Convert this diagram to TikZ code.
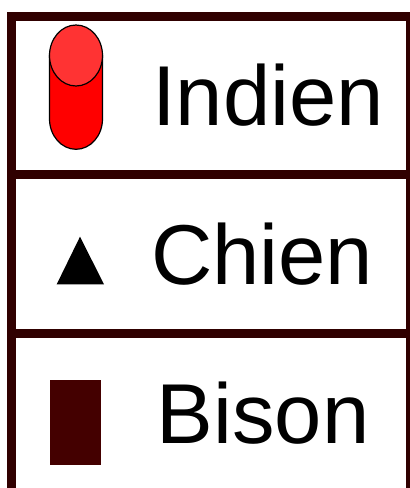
\documentclass[tikz,border=0pt]{standalone}
\usepackage{fontspec}
\setmainfont{Liberation Sans}
\definecolor{framec}{RGB}{48,0,0}
\definecolor{bisonc}{RGB}{68,0,0}
\definecolor{captop}{RGB}{255,51,51}
\begin{document}
\begin{tikzpicture}[x=1pt,y=-1pt,
  frameline/.style={draw=framec,line width=9pt},
  label/.style={anchor=base west,inner sep=0pt,font=\fontsize{85}{90}\selectfont}]
\useasboundingbox (0,0) rectangle (410,488);
\clip (0,0) rectangle (410,488);
% frame
\draw[frameline] (11.5,16) rectangle (410.5,492.5);
\draw[frameline] (11.5,174.5) -- (410.5,174.5);
\draw[frameline] (11.5,333.5) -- (410.5,333.5);
% cylinder
\draw[fill=red,line width=1.2pt] (49.5,55.5) -- (49.5,118.8)
  arc[start angle=180,end angle=360,x radius=26.5,y radius=-30.5] -- (102.5,55.5) -- cycle;
\draw[fill=captop,line width=1.2pt] (76,55.5) ellipse[x radius=26.5,y radius=30.5];
% triangle
\fill[black] (80,236.7) -- (104,284.3) -- (56.7,284.3) -- cycle;
% bison rectangle
\fill[bisonc] (50,380) rectangle (101,465);
% labels
\node[label] (t1) at (152,125) {Indien};
\node[label] (t2) at (151,284.5) {Chien};
\node[label] (t3) at (156.5,443) {Bison};
\end{tikzpicture}
\end{document}
